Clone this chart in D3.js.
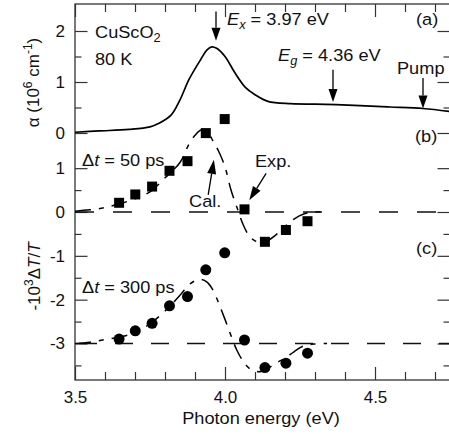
<!DOCTYPE html>
<html>
<head>
<meta charset="utf-8">
<script src="https://cdn.jsdelivr.net/npm/d3@7"></script>
<style>
  html, body { margin: 0; padding: 0; background: #fff; }
  svg text { font-family: "Liberation Sans", Arial, Helvetica, sans-serif; fill: #111; }
</style>
</head>
<body>
<svg id="chart" width="449" height="434"></svg>
<script>
// ---- data -------------------------------------------------------------
// (a) absorption spectrum of CuScO2 at 80 K: photon energy (eV) / alpha (10^6 cm^-1)
const absE     = [3.50, 3.58, 3.68, 3.75, 3.78, 3.82, 3.85, 3.88, 3.92, 3.94, 3.956, 3.972, 4.00, 4.033, 4.067, 4.10, 4.143, 4.22, 4.30, 4.37, 4.45, 4.55, 4.66, 4.75];
const absAlpha = [0.015, 0.04, 0.07, 0.12, 0.19, 0.35, 0.65, 1.05, 1.45, 1.63, 1.69, 1.66, 1.50, 1.18, 0.90, 0.75, 0.62, 0.575, 0.565, 0.555, 0.535, 0.51, 0.48, 0.42];

// probe photon energies (eV)
const probeE = [3.647, 3.701, 3.757, 3.815, 3.875, 3.936, 3.999, 4.065, 4.133, 4.203, 4.275];
// -10^3 dT/T, measured
const exp50  = [0.21, 0.40, 0.58, 0.94, 1.16, 1.80, 2.12, 0.06, -0.68, -0.41, -0.21];
const exp300 = [0.10, 0.29, 0.46, 0.86, 1.07, 1.68, 2.07, 0.08, -0.55, -0.45, -0.22];
const offset300 = -3;   // panel (c) is shifted down by 3

// calculated spectra
const calcE   = [3.50, 3.55, 3.60, 3.65, 3.70, 3.75, 3.80, 3.85, 3.88, 3.90, 3.92, 3.94, 3.96, 3.98, 4.00, 4.02, 4.04, 4.06, 4.08, 4.10, 4.12, 4.14, 4.17, 4.20, 4.23, 4.26, 4.30, 4.34];
const calc50  = [0.02, 0.05, 0.10, 0.19, 0.30, 0.46, 0.78, 1.13, 1.55, 1.75, 1.87, 1.84, 1.62, 1.37, 1.03, 0.50, 0.10, -0.28, -0.54, -0.66, -0.70, -0.66, -0.52, -0.33, -0.16, -0.05, 0.00, 0.01];
const calc300 = [0.00, 0.03, 0.09, 0.15, 0.25, 0.45, 0.74, 1.10, 1.34, 1.43, 1.46, 1.40, 1.22, 0.90, 0.55, 0.18, -0.16, -0.40, -0.56, -0.63, -0.64, -0.58, -0.45, -0.33, -0.19, -0.06, -0.01, 0.00];

// marked energies (eV)
const excitonE = 3.97, gapE = 4.36, pumpE = 4.66;

// ticks
const xMajor = [3.5, 4.0, 4.5];
const xMinor = [3.6, 3.7, 3.8, 3.9, 4.1, 4.2, 4.3, 4.4, 4.6, 4.7];
const aMajor = [0, 1, 2];
const aMinor = [0.5, 1.5];
const tMajor = [-3, -2, -1, 0, 1];
const tMinor = [-3.5, -2.5, -1.5, -0.5, 0.5];

// ---- layout -----------------------------------------------------------
const L = 75, R = 450, T = 4, B = 380;
const FS = 17;
const svg = d3.select("#chart");

const x  = d3.scaleLinear().domain([3.5, 4.75]).range([L, R]);
const yA = d3.scaleLinear().domain([0, 2]).range([133, 31]);
const yT = d3.scaleLinear().domain([0, -3]).range([212, 343.5]);

// ---- axes -------------------------------------------------------------
function styleAxis(g) {
  g.select(".domain").remove();
  g.attr("color", "#333").attr("font-size", FS);
  g.selectAll(".tick line").attr("stroke-width", 1.2);
}
// bottom
svg.append("g").attr("transform", `translate(0,${B})`)
  .call(d3.axisBottom(x).tickValues(xMinor).tickSize(-8).tickFormat(""))
  .call(styleAxis);
svg.append("g").attr("transform", `translate(0,${B})`)
  .call(d3.axisBottom(x).tickValues(xMajor).tickSize(-13).tickPadding(11).tickFormat(d3.format(".1f")))
  .call(styleAxis);
// top
svg.append("g").attr("transform", `translate(0,${T})`)
  .call(d3.axisTop(x).tickValues(xMinor).tickSize(-8).tickFormat(""))
  .call(styleAxis);
svg.append("g").attr("transform", `translate(0,${T})`)
  .call(d3.axisTop(x).tickValues(xMajor).tickSize(-13).tickFormat(""))
  .call(styleAxis);
// left
const fmt = d => String(d);
svg.append("g").attr("transform", `translate(${L},0)`)
  .call(d3.axisLeft(yA).tickValues(aMajor).tickSize(-12.5).tickPadding(10).tickFormat(fmt))
  .call(styleAxis);
svg.append("g").attr("transform", `translate(${L},0)`)
  .call(d3.axisLeft(yA).tickValues(aMinor).tickSize(-6.5).tickFormat(""))
  .call(styleAxis);
svg.append("g").attr("transform", `translate(${L},0)`)
  .call(d3.axisLeft(yT).tickValues(tMajor).tickSize(-12.5).tickPadding(10).tickFormat(fmt))
  .call(styleAxis);
svg.append("g").attr("transform", `translate(${L},0)`)
  .call(d3.axisLeft(yT).tickValues(tMinor).tickSize(-6.5).tickFormat(""))
  .call(styleAxis);
// right
svg.append("g").attr("transform", `translate(${R},0)`)
  .call(d3.axisRight(yA).tickValues(aMajor).tickSize(-12.5).tickFormat(""))
  .call(styleAxis);
svg.append("g").attr("transform", `translate(${R},0)`)
  .call(d3.axisRight(yA).tickValues(aMinor).tickSize(-6.5).tickFormat(""))
  .call(styleAxis);
svg.append("g").attr("transform", `translate(${R},0)`)
  .call(d3.axisRight(yT).tickValues(tMajor).tickSize(-12.5).tickFormat(""))
  .call(styleAxis);
svg.append("g").attr("transform", `translate(${R},0)`)
  .call(d3.axisRight(yT).tickValues(tMinor).tickSize(-6.5).tickFormat(""))
  .call(styleAxis);

// frame
svg.append("rect").attr("x", L).attr("y", T).attr("width", R - L).attr("height", B - T)
  .attr("fill", "none").attr("stroke", "#333").attr("stroke-width", 1.3);

// ---- baselines for (b) and (c) ---------------------------------------
svg.append("line")
  .attr("x1", x(3.5)).attr("x2", x(4.75)).attr("y1", yT(0)).attr("y2", yT(0))
  .attr("stroke", "#111").attr("stroke-width", 1.3).attr("stroke-dasharray", "19,19");
svg.append("line")
  .attr("x1", x(3.5)).attr("x2", x(4.75)).attr("y1", yT(offset300)).attr("y2", yT(offset300))
  .attr("stroke", "#111").attr("stroke-width", 1.3).attr("stroke-dasharray", "18,18").attr("stroke-dashoffset", 32);

// ---- absorption curve ---------------------------------------------------
const absLine = d3.line().x((d, i) => x(absE[i])).y(d => yA(d)).curve(d3.curveCatmullRom.alpha(0.5));
svg.append("path").attr("d", absLine(absAlpha))
  .attr("fill", "none").attr("stroke", "#000").attr("stroke-width", 1.7);

// ---- calculated curves ----------------------------------------------------
const calcLine = off => d3.line().x((d, i) => x(calcE[i])).y(d => yT(d + off)).curve(d3.curveCatmullRom.alpha(0.5));
[[calc50, 0], [calc300, offset300]].forEach(([vals, off]) => {
  svg.append("path").attr("d", calcLine(off)(vals))
    .attr("fill", "none").attr("stroke", "#000").attr("stroke-width", 1.5)
    .attr("stroke-dasharray", "16,8,5,8");
});

// ---- measured points ------------------------------------------------------
const SQ = 10;
svg.append("g").selectAll("rect").data(exp50).join("rect")
  .attr("x", (d, i) => x(probeE[i]) - SQ / 2)
  .attr("y", d => yT(d) - SQ / 2)
  .attr("width", SQ).attr("height", SQ).attr("fill", "#000");
svg.append("g").selectAll("circle").data(exp300).join("circle")
  .attr("cx", (d, i) => x(probeE[i]))
  .attr("cy", d => yT(d + offset300))
  .attr("r", 5.5).attr("fill", "#000");

// ---- arrows -------------------------------------------------------------
function arrow(x1, y1, x2, y2, headLen = 13, headW = 9) {
  const ang = Math.atan2(y2 - y1, x2 - x1);
  const bx = x2 - headLen * Math.cos(ang), by = y2 - headLen * Math.sin(ang);
  const nx = -Math.sin(ang) * headW / 2, ny = Math.cos(ang) * headW / 2;
  svg.append("line").attr("x1", x1).attr("y1", y1).attr("x2", bx).attr("y2", by)
    .attr("stroke", "#000").attr("stroke-width", 1.3);
  svg.append("path").attr("d", `M${x2},${y2}L${bx + nx},${by + ny}L${bx - nx},${by - ny}Z`).attr("fill", "#000");
}
arrow(x(excitonE), yA(2.38), x(excitonE), yA(1.81));
arrow(x(gapE), yA(1.24), x(gapE), yA(0.61));
arrow(x(pumpE), yA(1.08), x(pumpE), yA(0.48));
arrow(x(3.944), yT(0.39), x(3.963), yT(1.19), 14, 9);
arrow(x(4.137), yT(0.88), x(4.081), yT(0.27), 14, 9);

// ---- text ----------------------------------------------------------------
function addText(px, py, parts, opt = {}) {
  const sx = opt.sx == null ? 1.07 : opt.sx;
  const rot = opt.rotate || 0;
  const t = svg.append("text")
    .attr("transform", `translate(${px},${py}) rotate(${rot}) scale(${sx},1)`)
    .attr("text-anchor", opt.anchor || "start")
    .style("font-size", FS + "px");
  let shift = 0;
  parts.forEach(p => {
    const target = p.sub ? 4 : p.sup ? -7 : 0;
    const ts = t.append("tspan").text(p.t).attr("dy", target - shift);
    shift = target;
    if (p.sub || p.sup) ts.style("font-size", "12px");
    if (p.it) ts.style("font-style", "italic");
  });
  return t;
}

addText(95, 38, [{ t: "CuScO" }, { t: "2", sub: true }]);
addText(95, 65, [{ t: "80 K" }]);
addText(227, 25, [{ t: "E", it: true }, { t: "x", it: true, sub: true }, { t: " = 3.97 eV" }]);
addText(278, 61, [{ t: "E", it: true }, { t: "g", it: true, sub: true }, { t: " = 4.36 eV" }]);
addText(397, 74, [{ t: "Pump" }]);
addText(416, 25, [{ t: "(a)" }]);
addText(415, 142, [{ t: "(b)" }]);
addText(416, 254, [{ t: "(c)" }]);
addText(82, 166, [{ t: "Δ" }, { t: "t", it: true }, { t: " = 50 ps" }]);
addText(82, 293, [{ t: "Δ" }, { t: "t", it: true }, { t: " = 300 ps" }]);
addText(189, 207, [{ t: "Cal." }]);
addText(255, 167, [{ t: "Exp." }]);

addText(261, 424, [{ t: "Photon energy (eV)" }], { anchor: "middle" });
addText(39, 82.5, [{ t: "α (10" }, { t: "6", sup: true }, { t: " cm" }, { t: "-1", sup: true }, { t: ")" }],
  { anchor: "middle", rotate: -90, sx: 1 });
addText(40, 276.5, [{ t: "-10" }, { t: "3", sup: true }, { t: "Δ" }, { t: "T", it: true }, { t: "/" }, { t: "T", it: true }],
  { anchor: "middle", rotate: -90, sx: 1 });
</script>
</body>
</html>
